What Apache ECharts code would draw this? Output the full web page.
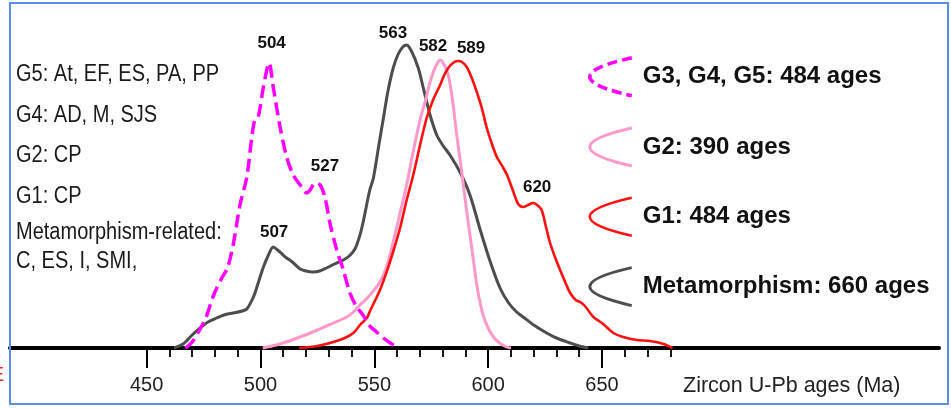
<!DOCTYPE html>
<html><head><meta charset="utf-8">
<script src="https://cdn.jsdelivr.net/npm/echarts@6/dist/echarts.min.js"></script>
<style>html,body{margin:0;padding:0;background:#fff}#c{width:951px;height:409px}</style>
</head><body><div id="c"></div><script>
// ---- data (age in Ma, relative probability density) ----
const seriesNames = ['G3, G4, G5: 484 ages', 'G2: 390 ages', 'G1: 484 ages', 'Metamorphism: 660 ages'];
const g345 = [[467,0],[470,6],[473.5,19],[476,30],[479.3,52],[483,70],[485.5,80],[488,103],[491,143],[494,171],[496.2,211],[497.5,228],[499,231],[501.3,261],[503.8,285],[505.6,261],[508.6,221],[511.5,191],[514.4,173],[518.1,161],[520.3,155],[521.8,158],[524,165],[526.2,163],[528.3,151],[530.5,125],[533.5,98],[536.4,78],[539.3,55],[542,42],[545,33],[548,22],[551,16],[554,10],[557,5],[560.5,0]];
const g2 = [[501,0],[505,2],[510,5],[517.4,11],[525,18],[532,25],[537.9,31],[540.8,36],[543.7,43],[546,48],[548.1,53],[552.5,66],[555.5,82],[558.3,106],[561,132],[564.2,163],[566.5,190],[568.6,213],[570.5,232],[572.3,246],[574,262],[575.9,276],[577.5,284],[578.9,288],[580.5,284],[582.5,273],[584.5,245],[586.2,213],[587.7,188],[589.1,163],[590.5,138],[592,113],[593.5,88],[595,63],[596.5,45],[597.9,32],[600,20],[602.3,11],[605,5],[608.1,1],[610,0]];
const g1 = [[517,0],[525,2],[532,6],[537,10],[540.8,15],[543.7,23],[546.7,30],[548.1,37],[552.5,58],[556,80],[558.5,98],[561.3,120],[564,146],[567.1,173],[570,202],[573,230],[575.8,248],[578.9,263],[580.5,272],[582.5,280],[584.5,285],[586.5,287],[588.5,286],[590.6,281],[592.8,270],[595,256],[597.2,240],[599.4,220],[601.5,205],[603.8,191],[606.7,180],[608.5,172],[611.1,156],[613.2,144],[615.4,141],[617.5,143],[619.8,145],[621.5,143],[623.5,138],[625.3,122],[627.2,105],[629.5,90],[631.6,78],[634,65],[636,55],[638.5,48],[640.4,46],[642.5,42],[646.2,31],[650.5,24],[655,15],[659.3,11],[665.3,8],[671,7],[677,4],[681,0]];
const meta = [[462,0],[466,4],[470,13],[473.5,20],[477,26],[480.8,30],[484,33],[488,35],[492,37],[494,39],[496.9,51],[499,65],[501.3,81],[503.5,93],[505.6,101],[507.5,98],[509.5,94],[511.5,90],[514,86],[517.4,79],[520,77],[523,76],[526,77],[529,80],[532.5,84],[536.4,88],[539,92],[541.5,99],[543.7,113],[545.2,127],[548,158],[549.6,170],[552,203],[554,230],[556,257],[558.3,280],[560.5,294],[562.5,301],[564.2,303],[566.5,296],[569.3,280],[571,265],[573,246],[575,229],[577.4,213],[580,203],[583.2,193],[587.6,176],[592,153],[596.4,119],[600.8,87],[605.2,60],[609,45],[612.5,36],[615.4,31],[620,23],[625.7,15],[630,10],[636,5],[640,2],[644,0]];
const majorTicks = [450, 500, 550, 600, 650];
const minorTickRange = [450, 680];
const peakText = ['504', '527', '582', '589', '620', '507', '563'];
const sampleLines = ['G5: At, EF, ES, PA, PP', 'G4: AD, M, SJS', 'G2: CP', 'G1: CP', 'Metamorphism-related:', 'C, ES, I, SMI,'];
const axisTitle = 'Zircon U-Pb ages (Ma)';

// ---- layout ----
const X0 = 390, X1 = 798, GL = 10, GW = 929, GTOP = 20, GBOT = 61, YMAX = 328;
const ppm = GW / (X1 - X0);
const pxOf = ma => GL + (ma - X0) * ppm;
const peakPos = [[504.9,305,0],[528.3,182,0],[575.8,302,1],[592.5,300,2],[621.5,161,2],[506.0,116,3],[558.2,315,3]];
const FONT = '"Liberation Sans", Arial, sans-serif';
const colors = ['#FF00FF', '#FF99CC', '#FF1010', '#4D4D4D'];
const datasets = [g345, g2, g1, meta];
const arc = 'path://M42,0Q-42,19 42,38';

const series = datasets.map((d, i) => ({
  type: 'line', name: seriesNames[i], data: d, xAxisIndex: 0, yAxisIndex: 0,
  smooth: 0.3, showSymbol: false, symbol: 'none', clip: false,
  z: [5, 3, 4, 2][i],
  lineStyle: { color: colors[i], width: [3.5, 3, 2.6, 3][i], type: i === 0 ? [13, 6] : 'solid' },
  itemStyle: { color: colors[i] },
  markPoint: {
    symbol: 'rect', symbolSize: 1, itemStyle: { color: 'rgba(0,0,0,0)' },
    label: { show: true, position: 'inside', formatter: p => p.name, fontFamily: FONT, fontWeight: 'bold', fontSize: 17, color: '#111' },
    data: peakPos.map((p, k) => ({ p, k })).filter(o => o.p[2] === i).map(o => ({ name: peakText[o.k], coord: [o.p[0], o.p[1]] }))
  }
}));

const legendStyles = [
  { color: 'rgba(0,0,0,0)', borderColor: colors[0], borderWidth: 3.5, borderType: [10, 5] },
  { color: 'rgba(0,0,0,0)', borderColor: colors[1], borderWidth: 3 },
  { color: 'rgba(0,0,0,0)', borderColor: colors[2], borderWidth: 2.6 },
  { color: 'rgba(0,0,0,0)', borderColor: colors[3], borderWidth: 3 }
];

const lineYs = [75, 116, 156, 197, 233, 262];
const graphics = [
  { type: 'rect', shape: { x: 10, y: 3, width: 938, height: 401 }, style: { fill: 'none', stroke: '#5B8EE6', lineWidth: 2 }, z: 10 },
  { type: 'text', x: 4, y: 375, style: { text: 'E', font: '20px ' + FONT, fill: '#FF2020', align: 'right', verticalAlign: 'middle' } },
  { type: 'text', x: 683, y: 386, style: { text: axisTitle, font: '21.5px ' + FONT, fill: '#222', align: 'left', verticalAlign: 'middle' } }
].concat(sampleLines.map((t, i) => ({
  type: 'text', x: 16, y: lineYs[i], scaleX: 0.87,
  style: { text: t, font: '23px ' + FONT, fill: '#1a1a1a', align: 'left', verticalAlign: 'middle' }
})));

const chart = echarts.init(document.getElementById('c'));
chart.setOption({
  animation: false,
  backgroundColor: '#fff',
  grid: [
    { left: GL, width: GW, top: GTOP, bottom: GBOT },
    { left: pxOf(minorTickRange[0]), width: (minorTickRange[1] - minorTickRange[0]) * ppm, top: GTOP, bottom: GBOT },
    { left: pxOf(majorTicks[0]), width: (majorTicks[majorTicks.length - 1] - majorTicks[0]) * ppm, top: GTOP, bottom: GBOT }
  ],
  xAxis: [
    { type: 'value', gridIndex: 0, min: X0, max: X1, axisLine: { show: true, lineStyle: { color: '#000', width: 4 } }, axisTick: { show: false }, axisLabel: { show: false }, splitLine: { show: false } },
    { type: 'value', gridIndex: 1, min: minorTickRange[0], max: minorTickRange[1], interval: 10, axisLine: { show: false }, axisTick: { show: true, length: 9, lineStyle: { color: '#000', width: 1.8 } }, axisLabel: { show: false }, splitLine: { show: false } },
    { type: 'value', gridIndex: 2, min: majorTicks[0], max: majorTicks[majorTicks.length - 1], interval: 50, axisLine: { show: false }, axisTick: { show: true, length: 20, lineStyle: { color: '#000', width: 2 } }, axisLabel: { show: true, margin: 27, fontSize: 20, fontFamily: FONT, color: '#222' }, splitLine: { show: false } }
  ],
  yAxis: [
    { type: 'value', gridIndex: 0, min: 0, max: YMAX, show: false },
    { type: 'value', gridIndex: 1, min: 0, max: YMAX, show: false },
    { type: 'value', gridIndex: 2, min: 0, max: YMAX, show: false }
  ],
  legend: {
    orient: 'vertical', left: 588, top: 56, padding: 0, itemWidth: 42, itemHeight: 40, itemGap: 29,
    selectedMode: false,
    textStyle: { fontSize: 24, fontWeight: 'bold', fontFamily: FONT, color: '#111', padding: [0, 0, 0, 6] },
    data: seriesNames.map((n, i) => ({ name: n, icon: arc, itemStyle: legendStyles[i] }))
  },
  graphic: graphics,
  series: series
});
</script></body></html>
